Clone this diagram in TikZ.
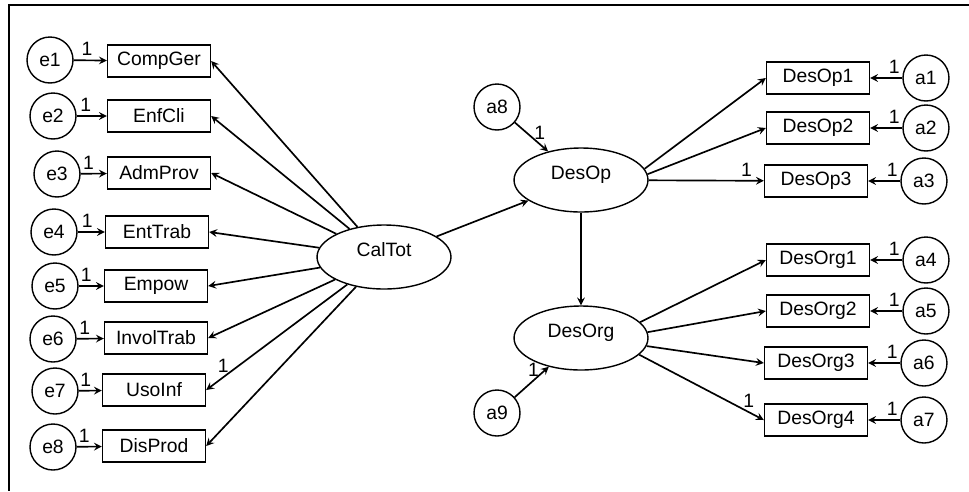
\documentclass[tikz,border=0pt]{standalone}
\usepackage{fontspec}
\setmainfont{Liberation Sans}
\usetikzlibrary{shapes.geometric, arrows}
\tikzstyle{latent} = [ellipse, draw=black, thick, minimum width=2.68cm, minimum height=1.28cm, text height=0.27cm, text depth=0.3cm]
\tikzstyle{observed} = [rectangle, draw=black, thick, minimum width=2.06cm, minimum height=0.64cm, text centered]
\tikzstyle{error} = [circle, draw=black, thick, minimum size=0.92cm, inner sep=0pt]
\tikzstyle{arrow} = [line width=0.95pt,->,>=stealth]
\tikzstyle{weight} = [above, inner sep=2pt]
\begin{document}
\begin{tikzpicture}[x=0.02cm, y=-0.02cm, node distance=2.16cm, font=\fontsize{11}{13}\selectfont]
\useasboundingbox (0,0) rectangle (969,491);
\draw [thick] (969,5) -- (9,5) -- (9,491);
% exogenous side
\node (CalTot) [latent] at (384,257) {CalTot};
\node (CompGer) [observed] at (159,61) {CompGer};
\node (EnfCli) [observed] at (159,116) {EnfCli};
\node (AdmProv) [observed] at (159,173) {AdmProv};
\node (EntTrab) [observed] at (157,232) {EntTrab};
\node (Empow) [observed] at (156,286) {Empow};
\node (InvolTrab) [observed] at (156,338) {InvolTrab};
\node (UsoInf) [observed] at (154,390) {UsoInf};
\node (DisProd) [observed] at (154,446) {DisProd};
\node (e1) [error] at (50,60) {e1};
\node (e2) [error] at (53,116) {e2};
\node (e3) [error] at (57,174) {e3};
\node (e4) [error] at (54,232) {e4};
\node (e5) [error] at (55,286) {e5};
\node (e6) [error] at (53,339) {e6};
\node (e7) [error] at (55,391) {e7};
\node (e8) [error] at (53,447) {e8};
% endogenous side
\node (DesOp) [latent] at (581,180) {DesOp};
\node (DesOrg) [latent] at (581,338) {DesOrg};
\node (a8) [error] at (497,107) {a8};
\node (a9) [error] at (497,413) {a9};
\node (DesOp1) [observed] at (818,78) {DesOp1};
\node (DesOp2) [observed] at (818,128) {DesOp2};
\node (DesOp3) [observed] at (816,181) {DesOp3};
\node (DesOrg1) [observed] at (818,260) {DesOrg1};
\node (DesOrg2) [observed] at (818,311) {DesOrg2};
\node (DesOrg3) [observed] at (816,363) {DesOrg3};
\node (DesOrg4) [observed] at (816,420) {DesOrg4};
\node (a1) [error, right of = DesOp1] {a1};
\node (a2) [error, right of = DesOp2] {a2};
\node (a3) [error, right of = DesOp3] {a3};
\node (a4) [error, right of = DesOrg1] {a4};
\node (a5) [error, right of = DesOrg2] {a5};
\node (a6) [error, right of = DesOrg3] {a6};
\node (a7) [error, right of = DesOrg4] {a7};
% errors into indicators
\draw [arrow] (e1) -- node[weight, pos=0.4] {1} (CompGer);
\draw [arrow] (e2) -- node[weight, pos=0.3] {1} (EnfCli);
\draw [arrow] (e3) -- node[weight, pos=0.3] {1} (AdmProv);
\draw [arrow] (e4) -- node[weight, pos=0.35] {1} (EntTrab);
\draw [arrow] (e5) -- node[weight, pos=0.3] {1} (Empow);
\draw [arrow] (e6) -- node[weight, pos=0.3] {1} (InvolTrab);
\draw [arrow] (e7) -- node[weight, pos=0.3] {1} (UsoInf);
\draw [arrow] (e8) -- node[weight, pos=0.3] {1} (DisProd);
% loadings of CalTot
\draw [arrow] (CalTot) -- (CompGer.east);
\draw [arrow] (CalTot) -- (EnfCli.east);
\draw [arrow] (CalTot) -- (AdmProv.east);
\draw [arrow] (CalTot) -- (EntTrab.east);
\draw [arrow] (CalTot) -- (Empow.east);
\draw [arrow] (CalTot) -- (InvolTrab.east);
\draw [arrow] (CalTot) -- node[weight, pos=0.88] {1} (UsoInf.east);
\draw [arrow] (CalTot) -- (DisProd.east);
% structural paths
\draw [arrow] (CalTot) -- (DesOp);
\draw [arrow] (DesOp) -- (DesOrg);
\draw [arrow] (a8) -- node[weight, pos=0.75] {1} (DesOp);
\draw [arrow] (a9) -- node[weight, pos=0.55] {1} (DesOrg);
% loadings of DesOp and DesOrg
\draw [arrow] (DesOp.10) -- (DesOp1.west);
\draw [arrow] (DesOp.5) -- (DesOp2.west);
\draw [arrow] (DesOp) -- node[weight, pos=0.85] {1} (DesOp3);
\draw [arrow] (DesOrg.15) -- (DesOrg1.west);
\draw [arrow] (DesOrg.5) -- (DesOrg2.west);
\draw [arrow] (DesOrg.-7) -- (DesOrg3.west);
\draw [arrow] (DesOrg.-16) -- node[weight, pos=0.88] {1} (DesOrg4.west);
% errors into DesOp and DesOrg indicators
\draw [arrow] (a1) -- node[weight, pos=0.25] {1} (DesOp1);
\draw [arrow] (a2) -- node[weight, pos=0.25] {1} (DesOp2);
\draw [arrow] (a3) -- node[weight, pos=0.25] {1} (DesOp3);
\draw [arrow] (a4) -- node[weight, pos=0.25] {1} (DesOrg1);
\draw [arrow] (a5) -- node[weight, pos=0.25] {1} (DesOrg2);
\draw [arrow] (a6) -- node[weight, pos=0.25] {1} (DesOrg3);
\draw [arrow] (a7) -- node[weight, pos=0.25] {1} (DesOrg4);
\end{tikzpicture}
\end{document}
